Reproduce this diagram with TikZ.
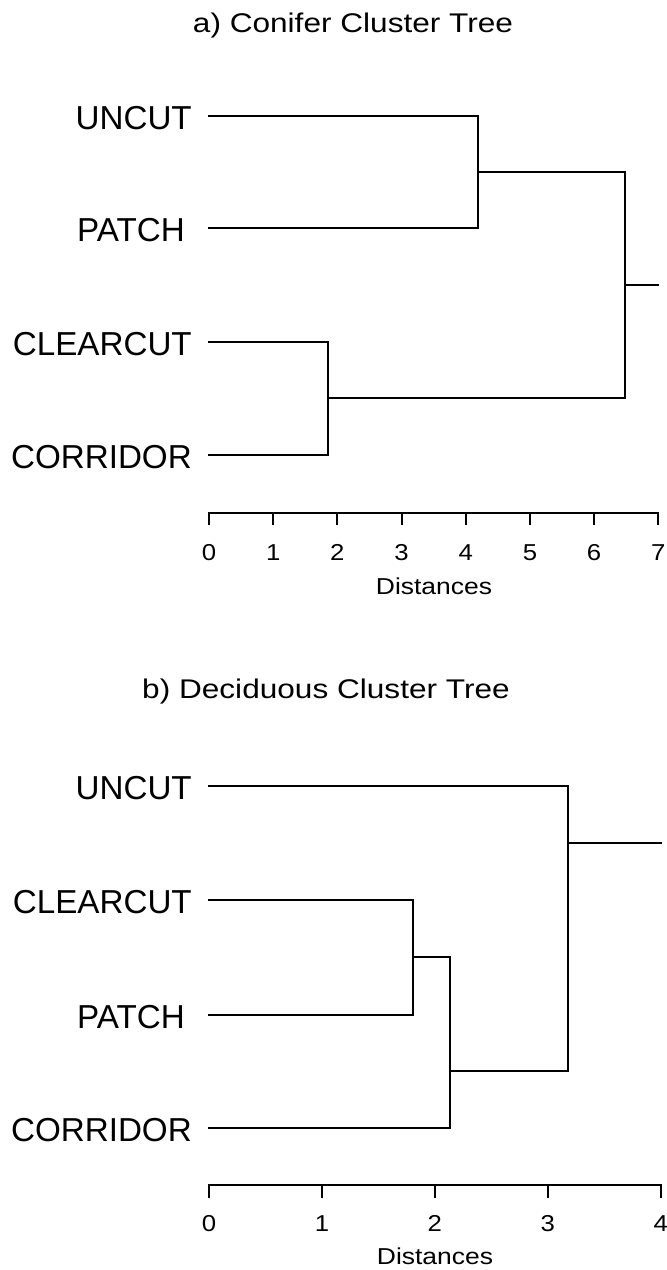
\documentclass[tikz,border=0pt]{standalone}
\usepackage{fontspec}
\setmainfont{Liberation Sans}
\begin{document}
\begin{tikzpicture}[x=1pt,y=-1pt,
  tree/.style={line width=2.2pt, line join=miter, line cap=rect},
  axisline/.style={line width=2pt, line cap=rect},
  leaflab/.style={inner sep=0pt, anchor=base east, font=\fontsize{33.2}{40}\selectfont},
  ticklab/.style={inner sep=0pt, anchor=base, font=\fontsize{23}{27}\selectfont},
  ttl/.style={inner sep=0pt, anchor=base, font=\fontsize{27}{32}\selectfont}]
\useasboundingbox (0,0) rectangle (667,1270);
\fill[white] (0,0) rectangle (667,1270);

% ---------- a) Conifer ----------
\node[ttl] (atitle) at (353,32) {\scalebox{1.17}[1]{a) Conifer Cluster Tree}};

\node[leaflab] (alU) at (192,129) {UNCUT};
\node[leaflab] (alP) at (185,241) {PATCH};
\node[leaflab] (alC) at (192,355) {CLEARCUT};
\node[leaflab] (alO) at (192,468) {CORRIDOR};

\coordinate (aU) at (209,116);
\coordinate (aP) at (209,228);
\coordinate (aC) at (209,342);
\coordinate (aO) at (209,455);
\coordinate (am1) at (477.7,172);
\coordinate (am2) at (327.7,398);
\coordinate (ar) at (625,285);
\coordinate (aend) at (658.3,285);

\draw[tree] (aU) -| (am1) |- (aP);
\draw[tree] (aC) -| (am2) |- (aO);
\draw[tree] (am1) -| (ar) |- (am2);
\draw[tree] (ar) -- (aend);

% axis a
\coordinate (aax0) at (209,512.7);
\coordinate (aax7) at (658.3,512.7);
\draw[axisline] (aax0) -- (aax7);
\foreach \i in {0,...,7} {
  \draw[axisline] (209+64.19*\i,512.7) -- (209+64.19*\i,523.5);
  \node[ticklab] (at\i) at (209+64.19*\i,560.7) {\scalebox{1.12}[1]{\i}};
}
\node[ticklab] (adist) at (434,594) {\scalebox{1.15}[1]{Distances}};

% ---------- b) Deciduous ----------
\node[ttl] (btitle) at (326,698) {\scalebox{1.17}[1]{b) Deciduous Cluster Tree}};

\node[leaflab] (blU) at (192,799) {UNCUT};
\node[leaflab] (blC) at (192,913) {CLEARCUT};
\node[leaflab] (blP) at (185,1028) {PATCH};
\node[leaflab] (blO) at (192,1141) {CORRIDOR};

\coordinate (bU) at (209,786);
\coordinate (bC) at (209,900);
\coordinate (bP) at (209,1015);
\coordinate (bO) at (209,1128);
\coordinate (bm1) at (413.3,957);
\coordinate (bm2) at (450,1071);
\coordinate (br) at (567.7,843);
\coordinate (bend) at (660.7,843);

\draw[tree] (bC) -| (bm1) |- (bP);
\draw[tree] (bm1) -- (bm1 -| bm2) -- (bm2 |- bO) -- (bO);
\draw[tree] (bU) -| (br) -- (br |- bm2) -- (bm2);
\draw[tree] (br) -- (bend);

% axis b
\coordinate (bax0) at (209,1185);
\coordinate (bax4) at (660.7,1185);
\draw[axisline] (bax0) -- (bax4);
\foreach \i in {0,...,4} {
  \draw[axisline] (209+112.93*\i,1185) -- (209+112.93*\i,1197);
  \node[ticklab] (bt\i) at (209+112.93*\i,1231) {\scalebox{1.12}[1]{\i}};
}
\node[ticklab] (bdist) at (435,1264) {\scalebox{1.15}[1]{Distances}};
\end{tikzpicture}
\end{document}
